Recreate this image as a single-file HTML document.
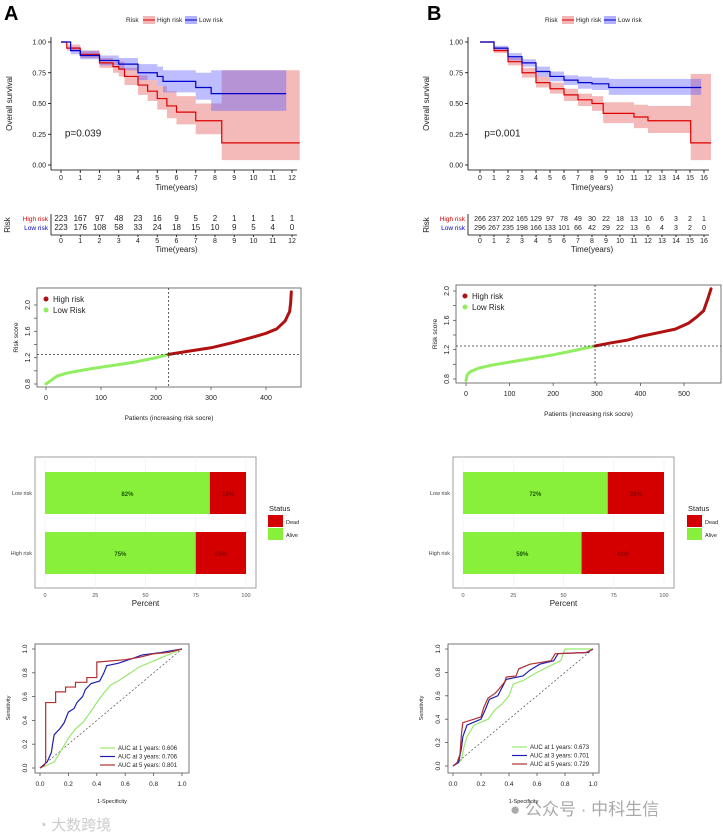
<!DOCTYPE html>
<html><head><meta charset="utf-8"><style>
html,body{margin:0;padding:0;background:#fff;}
svg{display:block;font-family:"Liberation Sans","Noto Sans CJK SC",sans-serif;}
</style></head><body>
<svg id="fig" width="723" height="840" viewBox="0 0 723 840">
<text x="4" y="20" font-size="20" font-weight="bold">A</text>
<text x="427" y="20" font-size="20" font-weight="bold">B</text>
<text x="38" y="830" font-size="15" fill="#ccc">◔ 大数跨境</text>
<text x="510" y="815" font-size="17" fill="#aaa">● 公众号 · 中科生信</text>
</svg>
<script>
// ---------- data ----------
const kmYearTicksA=[0,1,2,3,4,5,6,7,8,9,10,11,12];
const kmYearTicksB=[0,1,2,3,4,5,6,7,8,9,10,11,12,13,14,15,16];
const survTicks=[0,0.25,0.5,0.75,1];
const survTickLabels=["0.00","0.25","0.50","0.75","1.00"];
const aHighT=[0,0.3,1,2,2.7,3,3.3,4,4.5,5,5.5,6,7,8.35];
const aHighS=[1,.95,.9,.83,.8,.78,.72,.65,.6,.54,.48,.43,.36,.18];
const aHighLo=[1,.93,.87,.79,.75,.72,.65,.57,.52,.45,.38,.33,.25,.04];
const aHighHi=[1,.98,.93,.87,.85,.84,.79,.73,.69,.64,.6,.56,.5,.77];
const aHighEnd=12.4;
const aLowT=[0,0.5,1,2,3,4,5,5.3,7,7.8];
const aLowS=[1,.93,.89,.85,.82,.75,.72,.68,.63,.58];
const aLowLo=[1,.9,.86,.81,.77,.69,.64,.59,.53,.44];
const aLowHi=[1,.96,.93,.89,.87,.82,.8,.77,.75,.77];
const aLowEnd=11.7;
const bHighT=[0,1,2,3,4,5,6,7,8,8.8,11,12,15.05];
const bHighS=[1,.93,.84,.75,.67,.62,.57,.53,.5,.42,.39,.36,.18];
const bHighLo=[1,.91,.81,.71,.63,.58,.52,.48,.44,.34,.3,.26,.04];
const bHighHi=[1,.95,.87,.79,.72,.67,.62,.58,.56,.51,.49,.48,.74];
const bHighEnd=16.5;
const bLowT=[0,1,2,3,4,5,6,7,8,9.2];
const bLowS=[1,.95,.88,.83,.76,.72,.69,.67,.66,.63];
const bLowLo=[1,.93,.85,.8,.72,.68,.65,.62,.61,.57];
const bLowHi=[1,.97,.91,.86,.8,.76,.73,.72,.71,.7];
const bLowEnd=15.8;
const aRiskHigh=[223,167,97,48,23,16,9,5,2,1,1,1,1];
const aRiskLow=[223,176,108,58,33,24,18,15,10,9,5,4,0];
const bRiskHigh=[266,237,202,165,129,97,78,49,30,22,18,13,10,6,3,2,1];
const bRiskLow=[296,267,235,198,166,133,101,66,42,29,22,13,6,4,3,2,0];
const aScoreIdx=[0,10,20,40,80,120,160,200,223,260,300,340,380,400,420,435,440,443,445,446];
const aScoreVal=[0.8,0.86,0.92,0.97,1.03,1.08,1.13,1.2,1.25,1.3,1.35,1.43,1.52,1.57,1.64,1.76,1.85,1.9,2.05,2.2];
const aCut=223, aCutVal=1.25;
const bScoreIdx=[0,3,10,30,60,100,150,200,250,296,330,370,400,440,480,510,530,545,555,562];
const bScoreVal=[0.78,0.86,0.9,0.95,0.99,1.03,1.08,1.13,1.19,1.25,1.29,1.33,1.38,1.43,1.48,1.56,1.65,1.73,1.9,2.03];
const bCut=296, bCutVal=1.25;
const groups=["Low risk","High risk"];
const aAlive=[82,75];
const bAlive=[72,59];
const pctTicks=[0,25,50,75,100];
const rocTicks=[0,0.2,0.4,0.6,0.8,1];
const aRoc1=[[0,0],[.1,.05],[.15,.15],[.2,.25],[.25,.33],[.3,.38],[.35,.46],[.4,.55],[.45,.63],[.5,.7],[.55,.73],[.6,.77],[.7,.85],[.8,.9],[.9,.95],[1,1]];
const aRoc3=[[0,0],[.05,.05],[.08,.13],[.09,.21],[.1,.28],[.14,.33],[.17,.38],[.2,.47],[.24,.5],[.26,.55],[.3,.6],[.32,.66],[.36,.71],[.42,.73],[.45,.8],[.47,.86],[.55,.88],[.65,.92],[.72,.95],[.85,.97],[1,1]];
const aRoc5=[[0,0],[.03,.02],[.04,.05],[.04,.55],[.11,.55],[.11,.64],[.18,.64],[.18,.68],[.25,.68],[.25,.72],[.33,.72],[.33,.76],[.4,.76],[.4,.89],[.6,.91],[.7,.93],[.8,.96],[.9,.97],[1,1]];
const bRoc1=[[0,0],[.06,.05],[.08,.17],[.1,.25],[.15,.35],[.25,.4],[.3,.48],[.35,.53],[.4,.6],[.43,.7],[.5,.73],[.6,.8],[.7,.86],[.77,.9],[.8,1],[1,1]];
const bRoc3=[[0,0],[.04,.03],[.06,.15],[.07,.25],[.1,.35],[.2,.4],[.23,.48],[.26,.57],[.32,.6],[.38,.74],[.5,.77],[.55,.82],[.62,.87],[.72,.9],[.75,.96],[.96,.97],[1,1]];
const bRoc5=[[0,0],[.03,.03],[.05,.1],[.06,.27],[.07,.37],[.15,.4],[.2,.42],[.22,.5],[.25,.58],[.3,.62],[.33,.66],[.37,.72],[.38,.76],[.45,.77],[.47,.83],[.55,.87],[.6,.88],[.7,.9],[.73,.96],[.95,.97],[1,1]];
const aAuc=["0.606","0.706","0.801"];
const bAuc=["0.673","0.701","0.729"];

// ---------- helpers ----------
const svg=document.getElementById('fig');
const NS="http://www.w3.org/2000/svg";
function mk(tag,attrs,name,inter){
  const el=document.createElementNS(NS,tag);
  for(const k in attrs) el.setAttribute(k,attrs[k]);
  
  
  svg.appendChild(el);
  return el;
}
function txt(x,y,s,size,name,extra){
  const a=Object.assign({x:x,y:y,'font-size':size,fill:'#222'},extra||{});
  const t=mk('text',a,name,false); t.textContent=s; return t;
}
function stepPath(T,S,end,sx,sy){
  let d="M"+sx(T[0])+" "+sy(S[0]);
  for(let i=1;i<T.length;i++){d+=" H"+sx(T[i])+" V"+sy(S[i]);}
  return d+" H"+sx(end);
}
function bandPath(T,Lo,Hi,end,sx,sy){
  let d="M"+sx(T[0])+" "+sy(Hi[0]);
  for(let i=1;i<T.length;i++){d+=" H"+sx(T[i])+" V"+sy(Hi[i]);}
  d+=" H"+sx(end)+" V"+sy(Lo[Lo.length-1]);
  for(let i=T.length-1;i>=1;i--){d+=" H"+sx(T[i])+" V"+sy(Lo[i-1]);}
  return d+" H"+sx(T[0])+" Z";
}

// ---------- KM ----------
function km(p){
  const sx=t=>p.x0+(t)*(p.x1-p.x0)/p.tmax;
  const sy=s=>p.y0-(s)*(p.y0-p.y1);
  txt(p.legX,22,"Risk",6.5,p.id+"-legend-title");
  mk('rect',{x:p.legX+17,y:16,width:12,height:8,fill:'rgba(230,110,110,0.5)'},p.id+"-legend-high-swatch",false);
  mk('line',{x1:p.legX+17,y1:20,x2:p.legX+29,y2:20,stroke:'#d00','stroke-width':1},p.id+"-legend-high-line",false);
  txt(p.legX+31,22,"High risk",6.5,p.id+"-legend-high");
  mk('rect',{x:p.legX+59,y:16,width:12,height:8,fill:'rgba(100,100,255,0.5)'},p.id+"-legend-low-swatch",false);
  mk('line',{x1:p.legX+59,y1:20,x2:p.legX+71,y2:20,stroke:'#00c','stroke-width':1},p.id+"-legend-low-line",false);
  txt(p.legX+73,22,"Low risk",6.5,p.id+"-legend-low");
  mk('path',{d:bandPath(p.hT,p.hLo,p.hHi,p.hEnd,sx,sy),fill:'rgba(230,100,100,0.45)'},p.id+"-high-ci-band",false);
  mk('path',{d:bandPath(p.lT,p.lLo,p.lHi,p.lEnd,sx,sy),fill:'rgba(90,90,255,0.4)'},p.id+"-low-ci-band",false);
  mk('path',{d:stepPath(p.hT,p.hS,p.hEnd,sx,sy),fill:'none',stroke:'#d00','stroke-width':1.2},p.id+"-high-risk-curve",false);
  mk('path',{d:stepPath(p.lT,p.lS,p.lEnd,sx,sy),fill:'none',stroke:'#00c','stroke-width':1.2},p.id+"-low-risk-curve",false);
  mk('line',{x1:p.ax,y1:p.y1-5,x2:p.ax,y2:p.ay,stroke:'#000','stroke-width':0.8},p.id+"-y-axis",false);
  mk('line',{x1:p.ax,y1:p.ay,x2:p.x1+5,y2:p.ay,stroke:'#000','stroke-width':0.8},p.id+"-x-axis",false);
  survTicks.forEach((v,i)=>{
    mk('line',{x1:p.ax-3,y1:sy(v),x2:p.ax,y2:sy(v),stroke:'#000','stroke-width':0.8},p.id+"-y-tick",false);
    txt(p.ax-5,sy(v)+2.5,survTickLabels[i],7,p.id+"-y-tick-label",{'text-anchor':'end'});
  });
  p.ticks.forEach(t=>{
    mk('line',{x1:sx(t),y1:p.ay,x2:sx(t),y2:p.ay+3,stroke:'#000','stroke-width':0.8},p.id+"-x-tick",false);
    txt(sx(t),p.ay+10,String(t),7,p.id+"-x-tick-label",{'text-anchor':'middle'});
  });
  txt((p.x0+p.x1)/2,p.ay+20,"Time(years)",8,p.id+"-x-axis-title",{'text-anchor':'middle'});
  const yx=p.ax-39, ym=(p.y0+p.y1)/2;
  txt(yx,ym,"Overall survival",8,p.id+"-y-axis-title",{'text-anchor':'middle',transform:'rotate(-90 '+yx+' '+ym+')'});
  txt(sx(p.pT),sy(0.23),p.pval,10,p.id+"-p-value");
  const ry1=221, ry2=230, tay=235;
  mk('line',{x1:p.ax,y1:214,x2:p.ax,y2:tay,stroke:'#000','stroke-width':0.8},p.id+"-table-y-axis",false);
  mk('line',{x1:p.ax,y1:tay,x2:p.x1+5,y2:tay,stroke:'#000','stroke-width':0.8},p.id+"-table-x-axis",false);
  txt(p.ax-3,ry1,"High risk",6.5,p.id+"-table-high-label",{'text-anchor':'end',fill:'#d00'});
  txt(p.ax-3,ry2,"Low risk",6.5,p.id+"-table-low-label",{'text-anchor':'end',fill:'#00c'});
  txt(p.riskX,225,"Risk",8,p.id+"-table-title",{'text-anchor':'middle',transform:'rotate(-90 '+p.riskX+' 225)'});
  p.ticks.forEach((t,i)=>{
    txt(sx(t),ry1,String(p.rH[i]),p.tblSize,p.id+"-risk-high-count",{'text-anchor':'middle'});
    txt(sx(t),ry2,String(p.rL[i]),p.tblSize,p.id+"-risk-low-count",{'text-anchor':'middle'});
    mk('line',{x1:sx(t),y1:tay,x2:sx(t),y2:tay+2,stroke:'#000','stroke-width':0.8},p.id+"-table-x-tick",false);
    txt(sx(t),tay+8,String(t),7,p.id+"-table-x-tick-label",{'text-anchor':'middle'});
  });
  txt((p.x0+p.x1)/2,tay+17,"Time(years)",8,p.id+"-table-x-title",{'text-anchor':'middle'});
}
km({id:'a-km',x0:61,x1:292,tmax:12,y0:165,y1:42,ax:51,ay:170,legX:126,ticks:kmYearTicksA,
  hT:aHighT,hS:aHighS,hLo:aHighLo,hHi:aHighHi,hEnd:aHighEnd,lT:aLowT,lS:aLowS,lLo:aLowLo,lHi:aLowHi,lEnd:aLowEnd,
  pval:"p=0.039",pT:0.2,rH:aRiskHigh,rL:aRiskLow,riskX:10,tblSize:8});
km({id:'b-km',x0:480,x1:704,tmax:16,y0:165,y1:42,ax:468,ay:170,legX:545,ticks:kmYearTicksB,
  hT:bHighT,hS:bHighS,hLo:bHighLo,hHi:bHighHi,hEnd:bHighEnd,lT:bLowT,lS:bLowS,lLo:bLowLo,lHi:bLowHi,lEnd:bLowEnd,
  pval:"p=0.001",pT:0.3,rH:bRiskHigh,rL:bRiskLow,riskX:429,tblSize:7});

// ---------- risk score ----------
function score(p){
  const sx=i=>p.xa+(i)*(p.xb-p.xa)/p.xbv;
  const sy=v=>p.ya-(v-0.8)*(p.ya-p.yb)/1.2;
  mk('rect',{x:p.bx0,y:p.by0,width:p.bx1-p.bx0,height:p.by1-p.by0,fill:'none',stroke:'#555','stroke-width':0.8},p.id+"-plot-box",false);
  let lo="",hi="";
  p.idx.forEach((i,k)=>{
    if(i<=p.cut) lo+=(lo?" L":"M")+sx(i)+" "+sy(p.val[k]);
    if(i>=p.cut) hi+=(hi?" L":"M")+sx(i)+" "+sy(p.val[k]);
  });
  mk('path',{d:lo,fill:'none',stroke:'#90ee60','stroke-width':3,'stroke-linecap':'round','stroke-linejoin':'round'},p.id+"-low-risk-points",false);
  mk('path',{d:hi,fill:'none',stroke:'#b01010','stroke-width':3,'stroke-linecap':'round','stroke-linejoin':'round'},p.id+"-high-risk-points",false);
  mk('line',{x1:sx(p.cut),y1:p.by0,x2:sx(p.cut),y2:p.by1,stroke:'#333','stroke-width':0.8,'stroke-dasharray':'2,2'},p.id+"-cutoff-vline",false);
  mk('line',{x1:p.bx0,y1:sy(p.cutVal),x2:p.bx1,y2:sy(p.cutVal),stroke:'#333','stroke-width':0.8,'stroke-dasharray':'2,2'},p.id+"-cutoff-hline",false);
  p.xt.forEach(t=>{
    mk('line',{x1:sx(t),y1:p.by1,x2:sx(t),y2:p.by1+3,stroke:'#555','stroke-width':0.8},p.id+"-x-tick",false);
    txt(sx(t),p.by1+13,String(t),7,p.id+"-x-tick-label",{'text-anchor':'middle'});
  });
  [0.8,1.0,1.2,1.4,1.6,1.8,2.0].forEach((v,k)=>{
    mk('line',{x1:p.bx0-3,y1:sy(v),x2:p.bx0,y2:sy(v),stroke:'#555','stroke-width':0.8},p.id+"-y-tick",false);
    if(k%2===0){const x=p.bx0-7;txt(x,sy(v),v.toFixed(1),7,p.id+"-y-tick-label",{'text-anchor':'middle',transform:'rotate(-90 '+x+' '+sy(v)+')'});}
  });
  txt((p.bx0+p.bx1)/2,p.by1+33,"Patients (increasing risk socre)",6.5,p.id+"-x-axis-title",{'text-anchor':'middle'});
  const yx=p.bx0-19, ym=(p.by0+p.by1)/2;
  txt(yx,ym,"Risk score",6.5,p.id+"-y-axis-title",{'text-anchor':'middle',transform:'rotate(-90 '+yx+' '+ym+')'});
  mk('circle',{cx:p.bx0+9,cy:p.by0+11,r:2.5,fill:'#b01010'},p.id+"-legend-high-dot",false);
  txt(p.bx0+16,p.by0+14,"High risk",8,p.id+"-legend-high");
  mk('circle',{cx:p.bx0+9,cy:p.by0+22,r:2.5,fill:'#90ee60'},p.id+"-legend-low-dot",false);
  txt(p.bx0+16,p.by0+25,"Low Risk",8,p.id+"-legend-low");
}
score({id:'a-score',bx0:37,bx1:301,by0:288,by1:387,xa:46,xb:266,xbv:400,ya:384,yb:305,xt:[0,100,200,300,400],idx:aScoreIdx,val:aScoreVal,cut:aCut,cutVal:aCutVal});
score({id:'b-score',bx0:456,bx1:721,by0:285,by1:383,xa:466,xb:684,xbv:500,ya:379,yb:291,xt:[0,100,200,300,400,500],idx:bScoreIdx,val:bScoreVal,cut:bCut,cutVal:bCutVal});

// ---------- stacked bars ----------
function bars(p){
  const sx=v=>p.xa+v*(p.xb-p.xa)/100;
  mk('rect',{x:p.bx0,y:457,width:p.bx1-p.bx0,height:131,fill:'none',stroke:'#888','stroke-width':0.8},p.id+"-panel-box",false);
  pctTicks.forEach(t=>{
    mk('line',{x1:sx(t),y1:457,x2:sx(t),y2:588,stroke:'#eee','stroke-width':0.6},p.id+"-gridline",false);
    txt(sx(t),597,String(t),5.5,p.id+"-x-tick-label",{'text-anchor':'middle',fill:'#555'});
  });
  const ys=[472,532];
  groups.forEach((g,k)=>{
    const a=p.alive[k];
    mk('rect',{x:sx(0),y:ys[k],width:sx(a)-sx(0),height:42,fill:'#88f03a'},p.id+"-bar-alive-"+(k?'high':'low'),false);
    mk('rect',{x:sx(a),y:ys[k],width:sx(100)-sx(a),height:42,fill:'#d40000'},p.id+"-bar-dead-"+(k?'high':'low'),false);
    txt((sx(0)+sx(a))/2,ys[k]+24,a+"%",6,p.id+"-alive-pct",{'text-anchor':'middle','font-weight':'bold',fill:'#1a5a00'});
    txt((sx(a)+sx(100))/2,ys[k]+24,(100-a)+"%",6,p.id+"-dead-pct",{'text-anchor':'middle','font-weight':'bold',fill:'#800'});
    txt(p.bx0-3,ys[k]+23,g,5.5,p.id+"-y-label",{'text-anchor':'end',fill:'#444'});
  });
  txt((p.bx0+p.bx1)/2,606,"Percent",8,p.id+"-x-axis-title",{'text-anchor':'middle'});
  txt(p.lx,511,"Status",7.5,p.id+"-legend-title");
  mk('rect',{x:p.lx-1,y:515,width:15,height:12,fill:'#d40000'},p.id+"-legend-dead-swatch",false);
  txt(p.lx+17,524,"Dead",5.5,p.id+"-legend-dead");
  mk('rect',{x:p.lx-1,y:528,width:15,height:12,fill:'#88f03a'},p.id+"-legend-alive-swatch",false);
  txt(p.lx+17,537,"Alive",5.5,p.id+"-legend-alive");
}
bars({id:'a-bar',bx0:35,bx1:256,xa:45,xb:246,alive:aAlive,lx:269});
bars({id:'b-bar',bx0:453,bx1:674,xa:463,xb:664,alive:bAlive,lx:688});

// ---------- ROC ----------
function roc(p){
  const sx=v=>p.xa+v*(p.xb-p.xa);
  const sy=v=>p.ya-v*(p.ya-p.yb);
  mk('rect',{x:p.bx0,y:644,width:p.bx1-p.bx0,height:129,fill:'none',stroke:'#555','stroke-width':0.8},p.id+"-plot-box",false);
  mk('line',{x1:sx(0),y1:sy(0),x2:sx(1),y2:sy(1),stroke:'#333','stroke-width':0.6,'stroke-dasharray':'2,2'},p.id+"-diagonal",false);
  const cols=['#98e870','#2020b0','#b03030'], yrs=[1,3,5];
  p.curves.forEach((c,k)=>{
    const d=c.map((q,i)=>(i?"L":"M")+sx(q[0])+" "+sy(q[1])).join(" ");
    mk('path',{d:d,fill:'none',stroke:cols[k],'stroke-width':1.2},p.id+"-roc-"+yrs[k]+"y",false);
    const ly=p.ly+k*8.5;
    mk('line',{x1:p.lx,y1:ly,x2:p.lx+15,y2:ly,stroke:cols[k],'stroke-width':1.2},p.id+"-legend-line-"+yrs[k]+"y",false);
    txt(p.lx+18,ly+2,"AUC at "+yrs[k]+" years: "+p.auc[k],6,p.id+"-legend-"+yrs[k]+"y");
  });
  rocTicks.forEach(t=>{
    mk('line',{x1:sx(t),y1:773,x2:sx(t),y2:776,stroke:'#555','stroke-width':0.8},p.id+"-x-tick",false);
    txt(sx(t),786,t.toFixed(1),6.5,p.id+"-x-tick-label",{'text-anchor':'middle'});
    mk('line',{x1:p.bx0-3,y1:sy(t),x2:p.bx0,y2:sy(t),stroke:'#555','stroke-width':0.8},p.id+"-y-tick",false);
    const x=p.bx0-8;
    txt(x,sy(t),t.toFixed(1),6.5,p.id+"-y-tick-label",{'text-anchor':'middle',transform:'rotate(-90 '+x+' '+sy(t)+')'});
  });
  txt((p.bx0+p.bx1)/2,803,"1-Specificity",5.5,p.id+"-x-axis-title",{'text-anchor':'middle'});
  const yx=p.bx0-25;
  txt(yx,708,"Sensitivity",5.5,p.id+"-y-axis-title",{'text-anchor':'middle',transform:'rotate(-90 '+yx+' 708)'});
}
roc({id:'a-roc',bx0:35,bx1:189,xa:40,xb:182,ya:768,yb:649,curves:[aRoc1,aRoc3,aRoc5],auc:aAuc,lx:100,ly:748});
roc({id:'b-roc',bx0:448,bx1:599,xa:453,xb:593,ya:766,yb:649,curves:[bRoc1,bRoc3,bRoc5],auc:bAuc,lx:512,ly:747});
</script>
</body></html>
